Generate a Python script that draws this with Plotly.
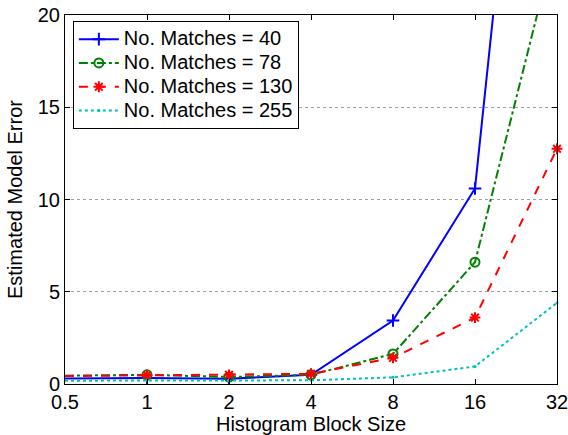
import plotly.graph_objects as go

block_sizes = [0.5, 1, 2, 4, 8, 16, 32]
tick_labels = ["0.5", "1", "2", "4", "8", "16", "32"]

err_40 = [0.3, 0.33, 0.29, 0.5, 3.44, 10.6, 53.0]
err_78 = [0.45, 0.5, 0.38, 0.5, 1.63, 6.6, 24.3]
err_130 = [0.43, 0.48, 0.5, 0.55, 1.42, 3.6, 12.75]
err_255 = [0.18, 0.2, 0.2, 0.2, 0.36, 0.95, 4.4]

series_names = ["No. Matches = 40", "No. Matches = 78", "No. Matches = 130", "No. Matches = 255"]

# markers are shown from the second block size on (none at the left axis limit)
shown = list(range(1, len(block_sizes)))


def big(label):
    return '<span style="font-size:20px">' + label + "</span>"


def add_series(y, name, color, dash, symbol, size, mlw):
    fig.add_trace(go.Scatter(
        x=block_sizes, y=y, name=big(name), mode="lines+markers",
        line=dict(color=color, width=2, dash=dash), cliponaxis=False,
        marker=dict(symbol=symbol, size=size, color=color, line=dict(color=color, width=mlw)),
        selectedpoints=shown,
        selected=dict(marker=dict(opacity=1)),
        unselected=dict(marker=dict(opacity=0)),
    ))


fig = go.Figure()
add_series(err_40, series_names[0], "#0000ff", "solid", "cross-thin-open", 9, 2)
add_series(err_78, series_names[1], "#008000", "dashdot", "circle-open", 9, 2)
add_series(err_130, series_names[2], "#ff0000", "dash", "asterisk-open", 9, 2)
add_series(err_255, series_names[3], "#00bfbf", "dot", "circle", 3, 0)

fig.update_layout(
    width=568, height=435,
    margin=dict(l=65, r=11, t=15, b=51),
    paper_bgcolor="white", plot_bgcolor="white",
    font=dict(family="Liberation Sans, Arial, sans-serif", size=20, color="black"),
    showlegend=True,
    legend=dict(
        x=0.016, y=0.983, xanchor="left", yanchor="top",
        bgcolor="white", bordercolor="black", borderwidth=1,
        font=dict(size=16), tracegroupgap=0, itemwidth=40,
    ),
)
fig.update_xaxes(
    type="log", range=[-0.30103, 1.50515],
    tickvals=block_sizes, ticktext=tick_labels,
    ticks="inside", ticklen=5, tickcolor="black",
    ticklabeloverflow="allow",
    showline=True, linecolor="black", linewidth=1, mirror="ticks",
    showgrid=False, zeroline=False, automargin=False,
    title=dict(text="Histogram Block Size", standoff=2, font=dict(size=20)),
)
fig.update_yaxes(
    range=[0, 20], tickvals=[0, 5, 10, 15, 20],
    ticks="inside", ticklen=5, tickcolor="black",
    showline=True, linecolor="black", linewidth=1, mirror="ticks",
    showgrid=True, gridcolor="#a0a0a0", gridwidth=1, griddash="dot",
    zeroline=False, automargin=False,
    title=dict(text="Estimated Model Error", standoff=9, font=dict(size=20)),
)

fig.write_html("out.html")
